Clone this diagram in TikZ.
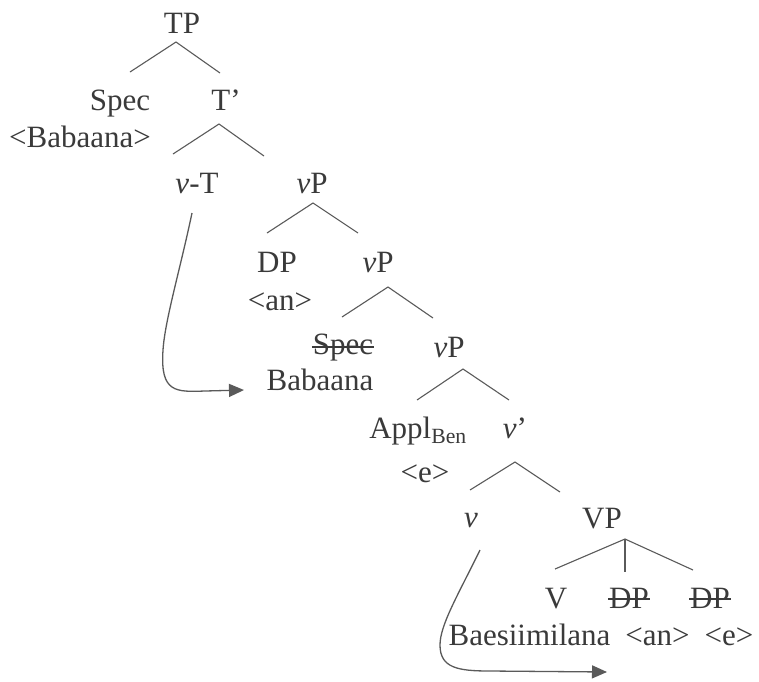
\documentclass[tikz,border=0pt]{standalone}
\usepackage{fontspec}
\setmainfont{Liberation Serif}
\usetikzlibrary{arrows.meta}
\definecolor{ink}{HTML}{3A3A3A}
\definecolor{ln}{HTML}{5A5A5A}
\begin{document}
\begin{tikzpicture}[x=1pt,y=-1pt,
  lbl/.style={anchor=base,inner sep=0pt,outer sep=0pt,text=ink,font=\fontsize{31}{36}\selectfont},
  br/.style={draw=ln,line width=1.1pt},
  mv/.style={draw=ln,line width=1.3pt,-{Triangle[length=15pt,width=13pt]}},
  strike/.style={draw=ink,line width=1.1pt}]
\useasboundingbox (0,0) rectangle (759,681);
% labels
\node[lbl] (TP) at (182,33) {TP};
\node[lbl] (Spec) at (120,110) {Spec};
\node[lbl] (SpecB) at (80,147) {<Babaana>};
\node[lbl] (Tbar) at (226,110) {T'};
\node[lbl] (vT) at (197,193) {\textit{v}-T};
\node[lbl] (vP1) at (312,193) {\textit{v}P};
\node[lbl] (DP) at (277,272) {DP};
\node[lbl] (an) at (280,310) {<an>};
\node[lbl] (vP2) at (378,272) {\textit{v}P};
\node[lbl] (Spec2) at (343,354) {Spec};
\node[lbl] (Bab) at (320,390) {Babaana};
\node[lbl] (vP3) at (449,357) {\textit{v}P};
\node[lbl] (Appl) at (418,438) {Appl\textsubscript{Ben}};
\node[lbl] (vbar) at (515,438) {\textit{v}'};
\node[lbl] (e) at (425,482) {<e>};
\node[lbl] (v) at (471,527) {\textit{v}};
\node[lbl] (VP) at (602,528) {VP};
\node[lbl] (V) at (556,608) {V};
\node[lbl] (DPa) at (629,608) {DP};
\node[lbl] (DPb) at (710,608) {DP};
\node[lbl] (Baes) at (601,645) {Baesiimilana\hspace{15pt}<an>\hspace{15pt}<e>};
% strike-throughs
\draw[strike] ([xshift=-1pt,yshift=7pt]Spec2.base west) -- ([xshift=1pt,yshift=7pt]Spec2.base east);
\draw[strike] ([xshift=-1pt,yshift=9pt]DPa.base west) -- ([xshift=1pt,yshift=9pt]DPa.base east);
\draw[strike] ([xshift=-1pt,yshift=9pt]DPb.base west) -- ([xshift=1pt,yshift=9pt]DPb.base east);
% branch points
\coordinate (tpA) at (176,42);  \coordinate (tpL) at (130,72);  \coordinate (tpR) at (220,73);
\coordinate (tbA) at (219,124); \coordinate (tbL) at (173,154); \coordinate (tbR) at (264,156);
\coordinate (v1A) at (313,203); \coordinate (v1L) at (267,233); \coordinate (v1R) at (358,233);
\coordinate (v2A) at (388,287); \coordinate (v2L) at (342,317); \coordinate (v2R) at (433,318);
\coordinate (v3A) at (463,369); \coordinate (v3L) at (417,400); \coordinate (v3R) at (509,400);
\coordinate (vbA) at (515,462); \coordinate (vbL) at (470,490); \coordinate (vbR) at (560,492);
\coordinate (VPA) at (625,539); \coordinate (VPL) at (555,569); \coordinate (VPM) at (625,572); \coordinate (VPR) at (693,570);
\draw[br] (tpL) -- (tpA) -- (tpR);
\draw[br] (tbL) -- (tbA) -- (tbR);
\draw[br] (v1L) -- (v1A) -- (v1R);
\draw[br] (v2L) -- (v2A) -- (v2R);
\draw[br] (v3L) -- (v3A) -- (v3R);
\draw[br] (vbL) -- (vbA) -- (vbR);
\draw[br] (VPL) -- (VPA) -- (VPR);
\draw[br] (VPA) -- (VPM);
% movement arrows
\coordinate (m1s) at (192,213); \coordinate (m1t) at (244,390);
\draw[mv] (m1s) .. controls (180,270) and (165,320) .. (163,350) .. controls (160,393) and (176,392) .. (205,391) -- (m1t);
\coordinate (m2s) at (480,550); \coordinate (m2t) at (607,672);
\draw[mv] (m2s) .. controls (458,595) and (440,625) .. (440,645) .. controls (440,668) and (458,671) .. (490,671) -- (m2t);
\end{tikzpicture}
\end{document}
